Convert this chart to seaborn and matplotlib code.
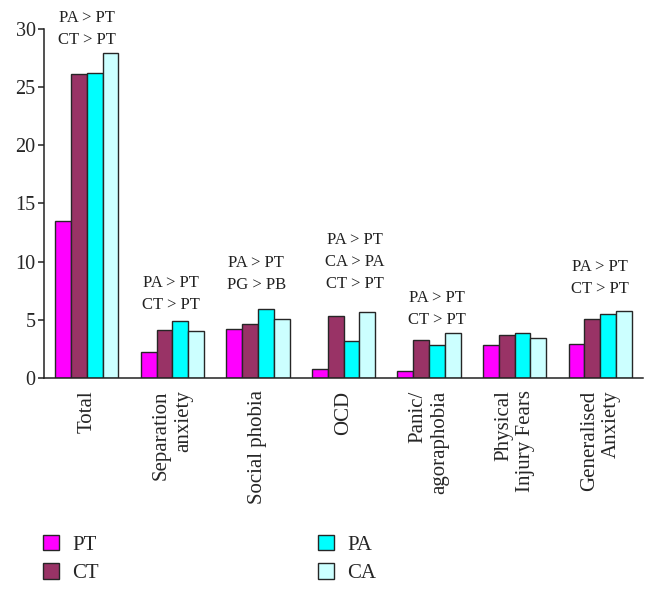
import numpy as np
import pandas as pd
import seaborn as sns
import matplotlib.pyplot as plt
from matplotlib.patches import Patch

#
# DATA
#

categories = ["Total", "Separation\nanxiety", "Social phobia", "OCD",
              "Panic/\nagoraphobia", "Physical\nInjury Fears", "Generalised\nAnxiety"]
groups = ["PT", "CT", "PA", "CA"]
pt = [13.5, 2.2, 4.2, 0.8, 0.6, 2.85, 2.9]
ct = [26.1, 4.1, 4.65, 5.35, 3.3, 3.7, 5.1]
pa = [26.25, 4.9, 5.95, 3.15, 2.85, 3.85, 5.5]
ca = [27.9, 4.0, 5.1, 5.65, 3.85, 3.45, 5.75]
annotations = ["PA > PT\nCT > PT", "PA > PT\nCT > PT", "PA > PT\nPG > PB",
               "PA > PT\nCA > PA\nCT > PT", "PA > PT\nCT > PT", "", "PA > PT\nCT > PT"]
colors = ["#FF00FF", "#993366", "#00FFFF", "#CCFFFF"]

# text placement of the annotations (data units)
annot_y = [28.33, 5.55, 7.27, 7.35, 4.26, 0, 6.92]
annot_dx = [0.0, -0.02, -0.02, 0.13, 0.09, 0, 0.0]

#
# PLOT
#

sns.set_style("white")
plt.rcParams["font.family"] = ["Liberation Serif", "DejaVu Serif"]

df = pd.DataFrame({
    "category": np.repeat(categories, len(groups)),
    "group": groups * len(categories),
    "value": np.column_stack([pt, ct, pa, ca]).ravel(),
})

fig = plt.figure(figsize=(6.58, 5.93), dpi=100)
ax = fig.add_axes([0.0669, 0.3626, 0.9103, 0.5885])

sns.barplot(data=df, x="category", y="value", hue="group", order=categories,
            hue_order=groups, palette=colors, saturation=1, width=0.74,
            edgecolor="#262626", linewidth=1.0, legend=False, ax=ax)

ax.set_xlim(-0.5, len(categories) - 0.5)
ax.set_ylim(0, 30)
ax.set_yticks(range(0, 31, 5))
ax.set_xlabel("")
ax.set_ylabel("")

ax.set_xticks(range(len(categories)))
ax.set_xticklabels(categories, rotation=90, fontsize=15, ma="right")
ax.set_xticks(np.arange(-0.5, len(categories), 1), minor=True)
ax.tick_params(axis="x", which="major", length=0, pad=9)
ax.tick_params(axis="x", which="minor", length=4, width=1.1, direction="out", color="#222222")
ax.tick_params(axis="y", length=4, width=1.1, direction="out", labelsize=14.5,
               color="#222222", pad=2, left=True)

sns.despine(ax=ax)
for side in ["left", "bottom"]:
    ax.spines[side].set_linewidth(1.1)
    ax.spines[side].set_color("#222222")

for i, txt in enumerate(annotations):
    if txt:
        ax.text(i + annot_dx[i], annot_y[i], txt, ha="center", va="bottom",
                fontsize=12, linespacing=1.5, color="#222222")

handles = [Patch(facecolor=c, edgecolor="#262626", linewidth=1.0) for c in colors]
fig.legend(handles, groups, loc="upper left", bbox_to_anchor=(0.065, 0.098),
           ncol=2, frameon=False, fontsize=15, handlelength=0.77, handleheight=0.77,
           handletextpad=0.65, columnspacing=10.5, labelspacing=0.4,
           borderpad=0, borderaxespad=0)

fig.savefig("out.png", dpi=100)
